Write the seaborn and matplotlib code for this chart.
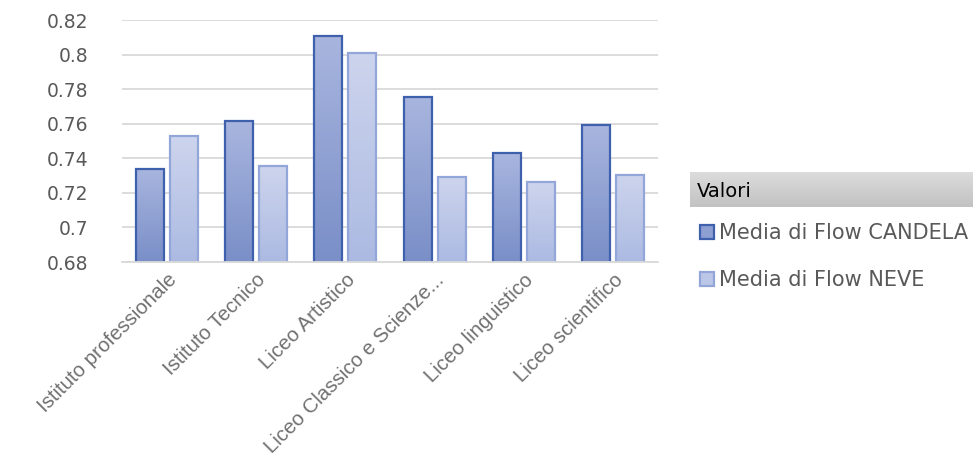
import numpy as np
import pandas as pd
import matplotlib
matplotlib.use("Agg")
import matplotlib.pyplot as plt
import seaborn as sns

# values
categories = ["Istituto professionale", "Istituto Tecnico", "Liceo Artistico",
              "Liceo Classico e Scienze...", "Liceo linguistico", "Liceo scientifico"]
candela = [0.734, 0.7615, 0.811, 0.7755, 0.743, 0.759]
neve = [0.7528, 0.7355, 0.801, 0.729, 0.726, 0.7305]
series_names = ["Media di Flow CANDELA", "Media di Flow NEVE"]
y_ticks = [0.68, 0.7, 0.72, 0.74, 0.76, 0.78, 0.8, 0.82]
y_tick_labels = ["0.68", "0.7", "0.72", "0.74", "0.76", "0.78", "0.8", "0.82"]

df = pd.DataFrame({
    "categoria": categories * 2,
    "valore": candela + neve,
    "serie": [series_names[0]] * len(categories) + [series_names[1]] * len(categories),
})

face_colors = ["#8e9fd1", "#bcc6e7"]
edge_colors = ["#3f61ad", "#93a6da"]
grad_top = ["#a8b5de", "#cdd4ed"]
grad_bot = ["#7a8fc8", "#acbae2"]
text_gray = "#595959"

sns.set_style("white")
plt.rcParams["font.family"] = ["DejaVu Sans"]

fig = plt.figure(figsize=(9.73, 4.62), dpi=100)
ax = fig.add_axes([122 / 973, 1 - 262 / 462, 536 / 973, 242 / 462])

sns.barplot(data=df, x="categoria", y="valore", hue="serie", ax=ax,
            palette=face_colors, width=0.76, gap=0.18, legend=False)

# edges + vertical gradient clipped to every bar
for i, container in enumerate(ax.containers):
    cmap = matplotlib.colors.LinearSegmentedColormap.from_list(
        f"g{i}", [grad_bot[i], grad_top[i]])
    for bar in container:
        bar.set_edgecolor(edge_colors[i])
        bar.set_linewidth(1.6)
        x0, y0 = bar.get_x(), 0.68
        x1, y1 = x0 + bar.get_width(), bar.get_height()
        grad = np.linspace(0, 1, 100).reshape(-1, 1)
        im = ax.imshow(grad, extent=[x0, x1, y0, y1], origin="lower",
                       cmap=cmap, aspect="auto", zorder=bar.get_zorder() - 0.01)
        im.set_clip_path(bar)
        bar.set_facecolor("none")

ax.set_xlim(-0.5, len(categories) - 0.5)
ax.set_ylim(0.68, 0.82)
ax.set_yticks(y_ticks)
ax.set_yticklabels(y_tick_labels)
ax.yaxis.grid(True, color="#d9d9d9", linewidth=1.3)
ax.set_axisbelow(True)
for s in ["top", "right", "left"]:
    ax.spines[s].set_visible(False)
ax.spines["bottom"].set_color("#d9d9d9")
ax.spines["bottom"].set_linewidth(1.3)
ax.set_xlabel("")
ax.set_ylabel("")

ax.tick_params(axis="y", length=0, pad=24, labelsize=13.5, labelcolor=text_gray)
ax.set_xticks(np.arange(-0.5, len(categories), 1), minor=True)
ax.tick_params(axis="x", which="minor", length=8, color="#d9d9d9", width=1.3)
ax.tick_params(axis="x", which="major", length=0, pad=6)
ax.set_xticks(range(len(categories)))
ax.set_xticklabels(categories, rotation=45, ha="right", rotation_mode="anchor",
                   fontsize=14.8, color="#707070", family="Liberation Sans")

# legend header "Valori"
hax = fig.add_axes([690 / 973, 1 - 207 / 462, 283 / 973, 35 / 462])
hax.imshow(np.linspace(0, 1, 50).reshape(-1, 1), aspect="auto",
           cmap=matplotlib.colors.LinearSegmentedColormap.from_list("hdr", ["#dcdcdc", "#c2c2c2"]),
           extent=[0, 1, 0, 1], origin="upper")
hax.set_axis_off()
hax.text(0.025, 0.45, "Valori", fontsize=14, color="black", va="center", ha="left",
         transform=hax.transAxes)

handles = [matplotlib.patches.Patch(facecolor=face_colors[i], edgecolor=edge_colors[i],
                                    linewidth=1.6) for i in range(2)]
fig.legend(handles, series_names, loc="upper left", bbox_to_anchor=(692 / 973, 1 - 215 / 462),
           frameon=False, fontsize=15, labelcolor=text_gray, handlelength=0.65,
           handleheight=0.65, handletextpad=0.25, labelspacing=1.3, borderaxespad=0)

fig.savefig("out.png", dpi=100)
